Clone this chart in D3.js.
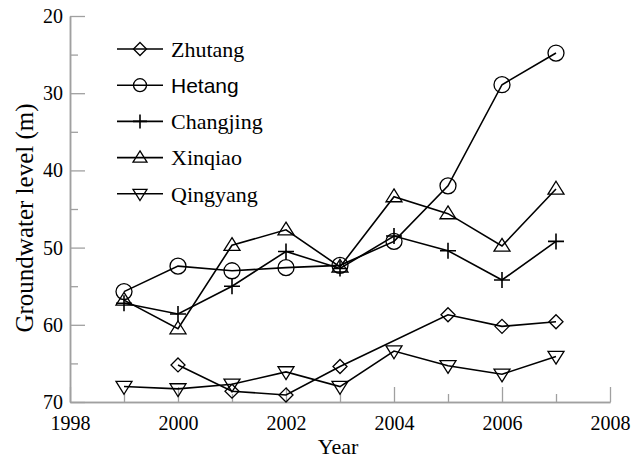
<!DOCTYPE html>
<html>
<head>
<meta charset="utf-8">
<script src="https://cdn.jsdelivr.net/npm/d3@7/dist/d3.min.js"></script>
<style>
  html, body { margin: 0; padding: 0; background: #fff; }
  svg { display: block; }
</style>
</head>
<body>
<script>
// Groundwater level (m below surface) at five monitoring sites, 1999-2007
const years = [1999, 2000, 2001, 2002, 2003, 2004, 2005, 2006, 2007];
const zhutang   = [null, 65.2, 68.6, 69.1, 65.4, null, 58.7, 60.2, 59.6];
const hetang    = [55.7, 52.4, 53.0, 52.6, 52.3, 49.2, 42.0, 28.9, 24.8];
const changjing = [57.2, 58.6, 55.0, 50.5, 52.7, 48.5, 50.4, 54.2, 49.2];
const xinqiao   = [56.8, 60.5, 49.7, 47.7, 52.5, 43.4, 45.6, 49.8, 42.4];
const qingyang  = [68.0, 68.3, 67.7, 66.1, 68.0, 63.4, 65.3, 66.4, 64.1];

const seriesNames = ["Zhutang", "Hetang", "Changjing", "Xinqiao", "Qingyang"];
const seriesValues = [zhutang, hetang, changjing, xinqiao, qingyang];
const seriesSymbols = ["diamond", "circle", "plus", "triUp", "triDown"];

const xMajorTicks = [1998, 2000, 2002, 2004, 2006, 2008];
const xMinorTicks = [1999, 2001, 2003, 2005, 2007];
const yMajorTicks = [20, 30, 40, 50, 60, 70];
const yMinorTicks = [25, 35, 45, 55, 65];

const W = 632, H = 458;
const margin = { left: 70, right: 22, top: 16, bottom: 56 };
const x = d3.scaleLinear().domain([1998, 2008]).range([margin.left, W - margin.right]);
const y = d3.scaleLinear().domain([20, 70]).range([margin.top, H - margin.bottom]);

const svg = d3.select("body").append("svg").attr("width", W).attr("height", H);

const axisColor = "#a0a0a0";
const serif = "'Liberation Serif', 'Times New Roman', serif";
const sans = "'Liberation Sans', Arial, sans-serif";

// Axes: ticks point inward, major and minor lengths differ
const xAxisMajor = d3.axisBottom(x).tickValues(xMajorTicks).tickFormat(d3.format("d"))
  .tickSizeInner(-15).tickSizeOuter(0).tickPadding(28);
const xAxisMinor = d3.axisBottom(x).tickValues(xMinorTicks).tickFormat("")
  .tickSizeInner(-8).tickSizeOuter(0);
const yAxisMajor = d3.axisLeft(y).tickValues(yMajorTicks)
  .tickSizeInner(-15).tickSizeOuter(0).tickPadding(7);
const yAxisMinor = d3.axisLeft(y).tickValues(yMinorTicks).tickFormat("")
  .tickSizeInner(-8).tickSizeOuter(0);

function styleAxis(g) {
  g.attr("font-family", serif).attr("font-size", 20);
  g.select(".domain").attr("stroke", axisColor).attr("stroke-width", 1.5);
  g.selectAll(".tick line").attr("stroke", axisColor).attr("stroke-width", 1.3);
  g.selectAll(".tick text").attr("fill", "#000");
}

const gx = svg.append("g").attr("transform", `translate(0,${y(70)})`);
gx.append("g").call(xAxisMinor).call(styleAxis);
gx.append("g").call(xAxisMajor).call(styleAxis);
gx.selectAll(".tick text").attr("dy", "0em");

const gy = svg.append("g").attr("transform", `translate(${x(1998)},0)`);
gy.append("g").call(yAxisMinor).call(styleAxis);
gy.append("g").call(yAxisMajor).call(styleAxis);

// Axis titles
svg.append("text")
  .attr("x", (x(1998) + x(2008)) / 2 - 2).attr("y", 454)
  .attr("text-anchor", "middle")
  .attr("font-family", serif).attr("font-size", 22)
  .text("Year");

svg.append("text")
  .attr("transform", `translate(33,${218}) rotate(-90)`)
  .attr("text-anchor", "middle")
  .attr("font-family", serif).attr("font-size", 25)
  .text("Groundwater level (m)");

// Marker shapes, drawn hollow
function drawSymbol(g, type, cx, cy, s) {
  const st = { fill: "none", stroke: "#000", "stroke-width": 1.3 };
  let el;
  if (type === "circle") {
    el = g.append("circle").attr("cx", cx).attr("cy", cy).attr("r", s);
  } else if (type === "diamond") {
    el = g.append("path").attr("d",
      `M${cx},${cy - s}L${cx + s},${cy}L${cx},${cy + s}L${cx - s},${cy}Z`);
  } else if (type === "plus") {
    el = g.append("path").attr("d",
      `M${cx - s},${cy}H${cx + s}M${cx},${cy - s}V${cy + s}`);
    st["stroke-width"] = 1.6;
  } else if (type === "triUp") {
    const h = s * 1.6;
    el = g.append("path").attr("d",
      `M${cx},${cy - h * 0.6}L${cx + s},${cy + h * 0.4}L${cx - s},${cy + h * 0.4}Z`);
  } else if (type === "triDown") {
    const h = s * 1.6;
    el = g.append("path").attr("d",
      `M${cx},${cy + h * 0.6}L${cx + s},${cy - h * 0.4}L${cx - s},${cy - h * 0.4}Z`);
  }
  Object.entries(st).forEach(([k, v]) => el.attr(k, v));
}

const line = d3.line().x(d => x(d.year)).y(d => y(d.value));
const symbolSize = { circle: 8, diamond: 7, plus: 8, triUp: 8, triDown: 8 };

seriesNames.forEach((name, i) => {
  const pts = years.map((yr, j) => ({ year: yr, value: seriesValues[i][j] }))
    .filter(d => d.value !== null);
  const g = svg.append("g");
  g.append("path").datum(pts)
    .attr("d", line)
    .attr("fill", "none").attr("stroke", "#000").attr("stroke-width", 1.6);
  pts.forEach(d => drawSymbol(g, seriesSymbols[i], x(d.year), y(d.value), symbolSize[seriesSymbols[i]]));
});

// Legend
const legend = svg.append("g");
const legendSize = { circle: 6.5, diamond: 6.5, plus: 7, triUp: 7, triDown: 7 };
seriesNames.forEach((name, i) => {
  const ly = 49 + i * 36.2;
  legend.append("line").attr("x1", 117).attr("x2", 163).attr("y1", ly).attr("y2", ly)
    .attr("stroke", "#000").attr("stroke-width", 1.6);
  drawSymbol(legend, seriesSymbols[i], 140, ly, legendSize[seriesSymbols[i]]);
  legend.append("text").attr("x", 171).attr("y", ly).attr("dy", "0.35em")
    .attr("font-family", name === "Hetang" ? sans : serif)
    .attr("font-size", name === "Hetang" ? 21 : 22)
    .text(name);
});
</script>
</body>
</html>
